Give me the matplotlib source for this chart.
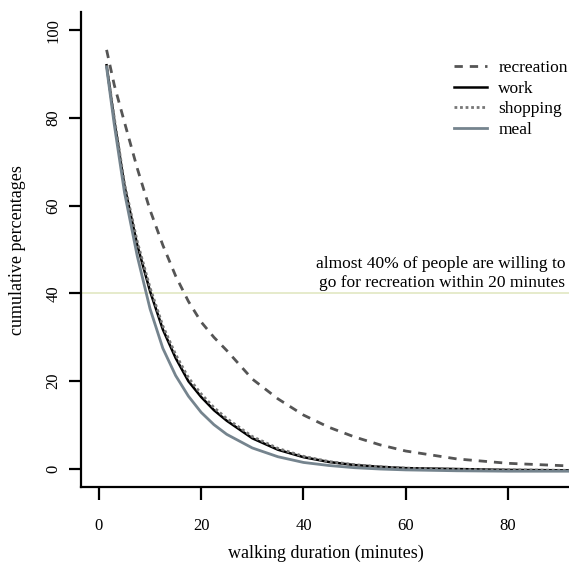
import matplotlib
matplotlib.use('Agg')
import matplotlib.pyplot as plt

# ── Data ──────────────────────────────────────────────
minutes = [1.5, 3, 5, 7.5, 10, 12.5, 15, 17.5, 20, 22.5, 25, 30, 35, 40, 45,
           50, 55, 60, 70, 80, 92]
recreation = [95.5, 87.5, 79, 68.5, 59, 51, 44, 38.2, 33.5, 30, 27, 20.5,
              16, 12.3, 9.5, 7.3, 5.5, 4.1, 2.3, 1.3, 0.7]
work = [92, 79.5, 64.5, 51, 40.5, 31.8, 25.3, 20, 16.4, 13.4, 11, 7, 4.4,
        2.7, 1.6, 0.9, 0.5, 0.2, 0.0, -0.2, -0.3]
shopping = [92, 80, 65, 51.8, 41.3, 32.6, 26.1, 20.8, 17.1, 14, 11.5, 7.4,
            4.7, 2.9, 1.7, 1.0, 0.5, 0.2, -0.1, -0.2, -0.3]
meal = [91.5, 78.5, 63, 48.5, 36.5, 27.5, 21.3, 16.6, 12.9, 10.1, 7.9, 4.8,
        2.8, 1.5, 0.8, 0.3, 0.0, -0.2, -0.4, -0.5, -0.5]

threshold = 40
xticks = [0, 20, 40, 60, 80]
yticks = [0, 20, 40, 60, 80, 100]

plt.rcParams.update({
    'font.family': ['Liberation Serif', 'DejaVu Serif'],
    'font.size': 12,
})

fig = plt.figure(figsize=(5.69, 5.64), dpi=100)
ax = fig.add_axes([0.1424, 0.1365, 0.86, 0.842])

ax.axhline(threshold, color='#e1e8c2', linewidth=1.2, zorder=1)
ax.plot(minutes, recreation, color='#555555', linestyle=(0, (3, 2.5)), linewidth=2, label='recreation')
ax.plot(minutes, work, color='black', linewidth=1.8, label='work')
ax.plot(minutes, shopping, color='#777777', linestyle=(0, (1, 1)), linewidth=2, label='shopping')
ax.plot(minutes, meal, color='#75848e', linewidth=2, label='meal')

ax.text(91.2, threshold + 0.6, "almost 40% of people are willing to\ngo for recreation within 20 minutes",
        ha='right', va='bottom', fontsize=12.5, linespacing=1.2)

ax.set_xlim(-3.5, 92.2)
ax.set_ylim(-4.1, 104.1)
ax.set_xticks(xticks)
ax.set_yticks(yticks)
for s in ['top', 'right']:
    ax.spines[s].set_visible(False)
for s in ['left', 'bottom']:
    ax.spines[s].set_linewidth(1.6)
ax.tick_params(axis='both', length=9, width=1.6, direction='out')
ax.tick_params(axis='x', pad=13)
ax.tick_params(axis='y', pad=5)
for lab in ax.get_yticklabels():
    lab.set_rotation(90)
    lab.set_va('center')

ax.set_xlabel("walking duration (minutes)", fontsize=13, labelpad=8)
ax.set_ylabel("cumulative percentages", fontsize=13, labelpad=14)

ax.legend(loc='upper right', bbox_to_anchor=(0.995, 0.899), frameon=False,
          borderaxespad=0, borderpad=0, handlelength=1.95, handletextpad=0.63,
          labelspacing=0.25, fontsize=12.5)

fig.savefig("out.png", dpi=100)
